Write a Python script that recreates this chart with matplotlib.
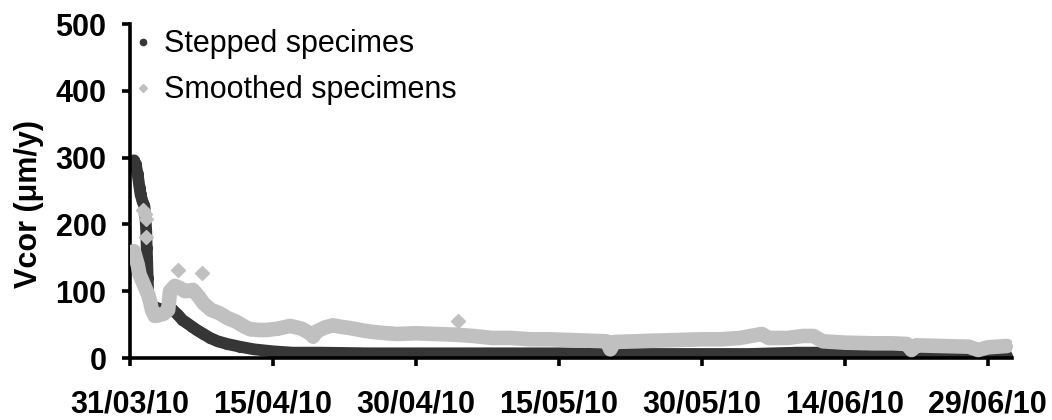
import numpy as np
import matplotlib
matplotlib.use("Agg")
import matplotlib.pyplot as plt
from matplotlib.lines import Line2D
import datetime as dt

plt.rcParams['font.family'] = ['Liberation Sans', 'DejaVu Sans']

# ---------------- data (days after 31/03/2010, Vcor in um/y) ----------------
start_date = dt.datetime(2010, 3, 31)

stepped_days = [0.4, 0.6, 0.8, 1.0, 1.1, 1.3, 1.5, 1.6, 1.7, 1.75, 1.8, 1.85,
                1.9, 2.0, 2.2, 2.6, 3.0, 3.8, 4.4, 5.0, 5.5, 6.0, 6.5, 7.0,
                7.7, 8.4, 9.2, 10.2, 11.5, 13.0, 15.0, 17.0, 20.0, 25.0,
                30.0, 35.0, 40.0, 45.0, 50.0, 50.4, 50.8, 55.0, 60.0, 65.0,
                70.0, 72.0, 73.0, 80.0, 81.5, 82.0, 83.0, 88.0, 89.0, 90.0,
                92.0]
stepped_vals = [296, 290, 275, 255, 245, 235, 228, 215, 190, 165, 145, 120,
                100, 88, 80, 76, 74, 72, 73, 65, 57, 52, 47, 42,
                36, 30, 25, 21, 17, 13, 10, 8, 8, 7,
                7, 7, 7, 7, 6, 1, 6, 6, 6, 6,
                8, 8, 6, 5, 5, 1, 3, 3, 0, 3,
                3]

smoothed_days = [0.4, 0.6, 0.8, 1.0, 1.3, 1.6, 1.9, 2.1, 2.3, 2.6, 3.0, 3.5,
                 4.0, 4.2, 4.7, 5.2, 5.8, 6.6, 7.2, 7.7, 8.5, 9.4,
                 10.2, 11.2, 12.0, 12.6, 13.5, 14.4, 15.5, 16.8, 18.0, 19.0,
                 19.2, 19.6, 20.5, 21.3, 22.0, 23.0, 24.5, 25.5, 27.0, 28.0,
                 30.0, 32.0, 34.0, 36.0, 38.0, 40.0, 42.0, 44.0, 46.0, 48.0,
                 50.0, 50.4, 50.8, 53.0, 55.0, 57.7, 60.0, 62.0, 64.0, 66.3,
                 67.0, 69.0, 70.6, 71.7, 72.7, 75.0, 78.0, 80.0, 81.5, 82.0,
                 82.5, 85.0, 88.0, 89.0, 90.0, 92.0]
smoothed_vals = [160, 150, 140, 125, 115, 105, 95, 85, 72, 63, 64, 66,
                 72, 100, 108, 105, 100, 102, 92, 82, 72, 67,
                 60, 54, 47, 43, 42, 42, 44, 48, 44, 36,
                 32, 40, 46, 49, 47, 45, 41, 39, 37, 36,
                 37, 36, 35, 33, 30, 30, 28, 28, 27, 26,
                 25, 13, 24, 25, 26, 27, 28, 28, 30, 36,
                 30, 30, 33, 33, 25, 23, 22, 22, 21, 12,
                 19, 18, 17, 12, 16, 18]

# isolated smoothed-specimen readings
smoothed_out_days = [1.4, 1.6, 1.7, 1.7, 5.0, 7.6, 34.4]
smoothed_out_vals = [222, 216, 208, 181, 132, 127, 55]

tick_days = [0, 15, 30, 45, 60, 75, 90]
tick_labels = ['31/03/10', '15/04/10', '30/04/10', '15/05/10',
               '30/05/10', '14/06/10', '29/06/10']
y_ticks = [0, 100, 200, 300, 400, 500]

dark = '#363636'
light = '#c0c0c0'

def to_dates(days):
    return [start_date + dt.timedelta(days=d) for d in days]

fig = plt.figure(figsize=(10.52, 4.2), dpi=100)
ax = fig.add_axes([0.1236, 0.1476, 0.838, 0.795])

ax.plot(to_dates(stepped_days), stepped_vals, color=dark, lw=8.5,
        solid_capstyle='round', solid_joinstyle='round',
        marker='o', ms=7, mec=dark, mfc=dark, zorder=2)
ax.plot(to_dates(smoothed_days), smoothed_vals, color=light, lw=10.5,
        solid_capstyle='round', solid_joinstyle='round',
        marker='D', ms=6.5, mec=light, mfc=light, zorder=3)
ax.plot(to_dates(smoothed_out_days), smoothed_out_vals, ls='none',
        marker='D', ms=7.5, mec=light, mfc=light, zorder=3)

ax.set_xlim(start_date, start_date + dt.timedelta(days=92.5))
ax.set_ylim(0, 500)
ax.set_xticks(to_dates(tick_days))
ax.set_xticklabels(tick_labels)
ax.set_yticks(y_ticks)

for s in ['top', 'right']:
    ax.spines[s].set_visible(False)
for s in ['left', 'bottom']:
    ax.spines[s].set_linewidth(2.6)
    ax.spines[s].set_color('black')

ax.tick_params(axis='both', direction='out', length=6, width=2.6,
               labelsize=22)
ax.tick_params(axis='x', pad=17)
ax.tick_params(axis='y', pad=11)
for lab in ax.get_xticklabels() + ax.get_yticklabels():
    lab.set_fontweight('bold')

ax.set_ylabel('Vcor (μm/y)', fontsize=22, fontweight='bold')
ax.yaxis.set_label_coords(-0.098, 0.46)

handles = [Line2D([], [], ls='none', marker='o', ms=4.5, color=dark),
           Line2D([], [], ls='none', marker='D', ms=4, color=light)]
ax.legend(handles, ['Stepped specimes', 'Smoothed specimens'],
          loc='upper left', bbox_to_anchor=(-0.009, 1.021), frameon=False,
          fontsize=22, handlelength=0.6, handletextpad=0.36,
          labelspacing=0.52, borderaxespad=0)

fig.savefig('out.png', dpi=100)
